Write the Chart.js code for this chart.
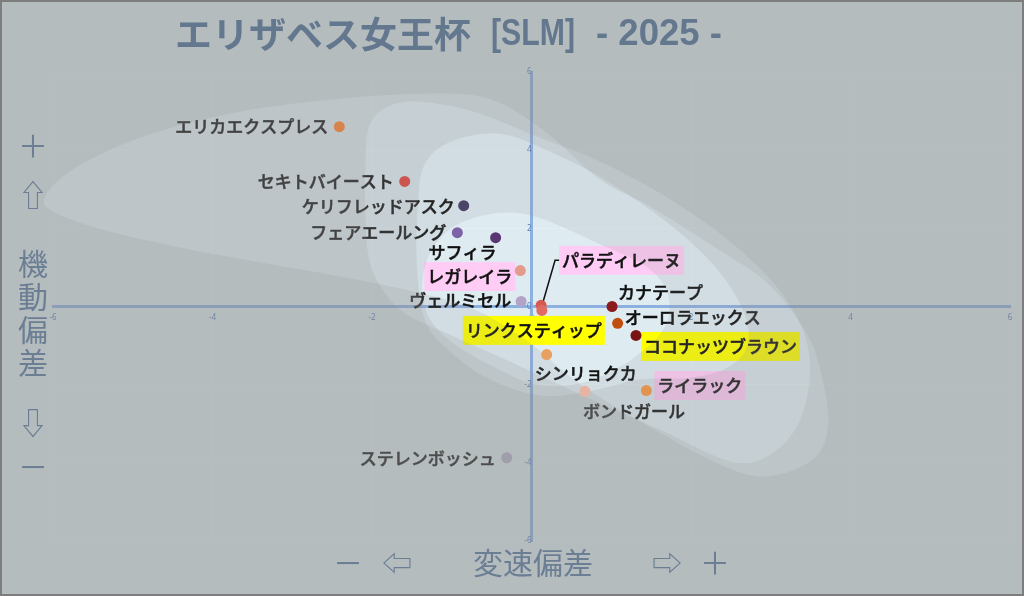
<!DOCTYPE html>
<html lang="ja">
<head>
<meta charset="utf-8">
<title>エリザベス女王杯 [SLM] - 2025 -</title>
<script src="https://cdn.jsdelivr.net/npm/chart.js@4.4.1/dist/chart.umd.min.js"></script>
<style>
  html, body { margin: 0; padding: 0; background: #b6bdbf; }
  #wrap { width: 1024px; height: 596px; position: relative; }
</style>
</head>
<body>
<div id="wrap"><canvas id="slm-chart"></canvas></div>
<script>
// --- data ---
const HORSES = [
  "エリカエクスプレス", "セキトバイースト", "ケリフレッドアスク", "フェアエールング",
  "サフィラ", "レガレイラ", "ヴェルミセル", "パラディレーヌ", "リンクスティップ",
  "カナテープ", "オーロラエックス", "ココナッツブラウン", "シンリョクカ",
  "ボンドガール", "ライラック", "ステレンボッシュ"
];
// 変速偏差 (x)
const SPEED_DEV = [-2.41, -1.59, -0.85, -0.93, -0.45, -0.14, -0.13, 0.12, 0.13, 1.01, 1.08, 1.31, 0.19, 0.67, 1.44, -0.31];
// 機動偏差 (y)
const MOBILITY_DEV = [4.60, 3.20, 2.58, 1.89, 1.76, 0.92, 0.13, 0.03, -0.10, 0.00, -0.43, -0.74, -1.23, -2.17, -2.15, -3.87];

const AXIS_MIN = -6;
const AXIS_MAX = 6;
const AXIS_STEP = 2;

// density regions behind the field, outlines in data units
const REGION_OUTER = [
  [-6.10, 2.81], [-5.72, 3.55], [-4.91, 4.32], [-3.78, 4.94], [-2.53, 5.29], [-1.27, 5.45],
  [-0.52, 5.31], [0.17, 4.48], [0.86, 3.25], [1.49, 2.56], [2.24, 1.59], [2.95, 0.61],
  [3.42, -0.59], [3.62, -1.61], [3.72, -3.02], [3.53, -3.91], [2.95, -4.35], [2.36, -4.04],
  [1.49, -3.09], [0.61, -1.99], [-0.08, -0.84], [-0.77, -0.03], [-1.65, 0.46], [-2.90, 0.95],
  [-4.16, 1.41], [-5.29, 1.92], [-5.97, 2.40]
];
const REGION_WIDE = [
  [-2.08, 3.76], [-2.03, 4.65], [-1.80, 5.12], [-1.40, 5.24], [-0.73, 4.99], [0.11, 4.32],
  [0.86, 3.71], [1.74, 2.74], [2.61, 1.46], [3.24, 0.05], [3.49, -1.36], [3.37, -2.89],
  [2.99, -3.79], [2.49, -3.96], [1.61, -3.15], [0.61, -2.25], [-0.27, -1.41], [-1.02, -0.72],
  [-1.65, -0.08], [-2.00, 0.95], [-2.08, 2.23]
];
const REGION_MID = [
  [-1.42, 2.74], [-1.36, 3.55], [-1.15, 4.07], [-0.77, 4.37], [-0.33, 4.40], [0.17, 4.02],
  [0.86, 3.32], [1.65, 2.23], [2.28, 1.07], [2.65, -0.08], [2.71, -0.97], [2.46, -1.56],
  [1.99, -1.82], [1.36, -1.87], [0.73, -2.17], [0.11, -2.28], [-0.52, -1.87], [-1.02, -1.15],
  [-1.34, -0.33], [-1.44, 1.20]
];
const REGION_CORE = [
  [-1.37, 0.43], [-1.30, 1.25], [-1.06, 1.92], [-0.67, 2.30], [-0.21, 2.40], [0.23, 2.17],
  [0.86, 1.59], [1.42, 1.05], [1.69, 0.43], [1.71, -0.33], [1.49, -0.97], [1.05, -1.61],
  [0.55, -1.99], [0.04, -1.99], [-0.46, -1.56], [-0.96, -0.97], [-1.27, -0.33]
];

// --- styles ---
const POINT_COLORS = [
  "#d9834c", "#cc5550", "#4a4468", "#7d62a8", "#583672", "#e59a8e", "#b3a3c6", "#d65a50",
  "#df6c63", "#8a1c1c", "#c04e0c", "#7a1414", "#e8a060", "#e9b3a3", "#e09450", "#a09eaa"
];
const PINK = "#ffccf6";
const YELLOW = "#ffff00";
// label placement relative to the point, in px
const LABEL_LAYOUT = [
  { align: "right", dx: -11, dy: 0 },
  { align: "right", dx: -11, dy: 0 },
  { align: "right", dx: -9, dy: 1 },
  { align: "right", dx: -11, dy: 0 },
  { align: "right", dx: 1, dy: 15 },
  { align: "right", dx: -8, dy: 6, mark: PINK },
  { align: "right", dx: -10, dy: -1 },
  { align: "left", dx: 21, dy: -45, mark: PINK, leader: true },
  { align: "right", dx: 60, dy: 20, mark: YELLOW },
  { align: "left", dx: 6, dy: -14 },
  { align: "left", dx: 7, dy: -6 },
  { align: "left", dx: 8, dy: 11, mark: YELLOW },
  { align: "left", dx: -12, dy: 19 },
  { align: "left", dx: -2, dy: 20 },
  { align: "left", dx: 11, dy: -5, mark: PINK },
  { align: "right", dx: -11, dy: 1 }
];

const BASE_COLOR = "#deecf2";
const FOG_COLOR = "rgba(140,140,140,0.155)";
const CAPTION_COLOR = "#6b7e94";
const TITLE_COLOR = "#63778e";
const JP_FONT = "'Noto Sans CJK JP', 'Noto Sans', sans-serif";
const LATIN_FONT = "'Liberation Sans', 'DejaVu Sans', sans-serif";

// --- helpers ---
function traceLoop(ctx, pts) {
  const n = pts.length;
  ctx.moveTo(pts[0][0], pts[0][1]);
  for (let i = 0; i < n; i++) {
    const p0 = pts[(i - 1 + n) % n], p1 = pts[i], p2 = pts[(i + 1) % n], p3 = pts[(i + 2) % n];
    ctx.bezierCurveTo(
      p1[0] + (p2[0] - p0[0]) / 6, p1[1] + (p2[1] - p0[1]) / 6,
      p2[0] - (p3[0] - p1[0]) / 6, p2[1] - (p3[1] - p1[1]) / 6,
      p2[0], p2[1]
    );
  }
  ctx.closePath();
}

// text squeezed/stretched horizontally to fill a given width
function fitText(ctx, text, left, cy, width) {
  const w = ctx.measureText(text).width;
  ctx.save();
  ctx.translate(left, cy);
  ctx.scale(width / w, 1);
  ctx.fillText(text, 0, 0);
  ctx.restore();
}

function drawLabels(chart) {
  const { ctx, scales: { x, y } } = chart;
  ctx.save();
  ctx.font = `500 17px ${JP_FONT}`;
  ctx.textBaseline = "middle";
  HORSES.forEach((name, i) => {
    const lay = LABEL_LAYOUT[i];
    const px = x.getPixelForValue(SPEED_DEV[i]);
    const py = y.getPixelForValue(MOBILITY_DEV[i]);
    const w = ctx.measureText(name).width;
    const tx = lay.align === "right" ? px + lay.dx - w : px + lay.dx;
    const ty = py + lay.dy;
    if (lay.mark) {
      ctx.fillStyle = lay.mark;
      ctx.fillRect(tx - 3, ty - 14.5, w + 6, 29);
    }
    if (lay.leader) {
      ctx.strokeStyle = "#111";
      ctx.lineWidth = 1.5;
      ctx.beginPath();
      ctx.moveTo(px + 1, py);
      ctx.lineTo(tx - 7, ty);
      ctx.lineTo(tx - 3, ty);
      ctx.stroke();
    }
    ctx.fillStyle = "#111";
    ctx.strokeStyle = "#111";
    ctx.lineWidth = 0.5;
    ctx.textAlign = "left";
    ctx.fillText(name, tx, ty);
    ctx.strokeText(name, tx, ty);
  });
  ctx.restore();
}

function drawFog(chart) {
  const { ctx, width, height, scales: { x, y } } = chart;
  ctx.save();
  ctx.fillStyle = FOG_COLOR;
  [REGION_OUTER, REGION_WIDE, REGION_MID, REGION_CORE].forEach(region => {
    const pts = region.map(([vx, vy]) => [x.getPixelForValue(vx), y.getPixelForValue(vy)]);
    ctx.beginPath();
    ctx.rect(0, 0, width, height);
    traceLoop(ctx, pts);
    ctx.fill("evenodd");
  });
  ctx.restore();
}

function drawCaptions(chart) {
  const { ctx, width, height } = chart;
  ctx.save();
  ctx.textBaseline = "middle";

  // title, in three pieces to match the spacing of the original
  ctx.fillStyle = TITLE_COLOR;
  ctx.textAlign = "left";
  ctx.font = `bold 36px ${JP_FONT}`;
  fitText(ctx, "エリザベス女王杯", 175, 34, 296);
  ctx.font = `bold 36px ${LATIN_FONT}`;
  fitText(ctx, "[SLM]", 491, 35, 84);
  fitText(ctx, "- 2025 -", 596, 35, 126);

  ctx.textAlign = "center";
  ctx.fillStyle = CAPTION_COLOR;
  ctx.font = `30px ${JP_FONT}`;
  [["＋", 146], ["⇧", 195], ["機", 264], ["動", 297], ["偏", 330], ["差", 363], ["⇩", 423], ["－", 467]]
    .forEach(([t, ty]) => ctx.fillText(t, 33, ty));
  [["－", 348], ["⇦", 397], ["変速偏差", 533], ["⇨", 667], ["＋", 715]]
    .forEach(([t, tx]) => ctx.fillText(t, tx, 563));

  ctx.strokeStyle = "#7d7d7d";
  ctx.lineWidth = 2;
  ctx.strokeRect(1, 1, width - 2, height - 2);
  ctx.restore();
}

const fieldPlugin = {
  id: "fieldPlugin",
  beforeDraw(chart) {
    const { ctx, width, height } = chart;
    ctx.save();
    ctx.fillStyle = BASE_COLOR;
    ctx.fillRect(0, 0, width, height);
    ctx.restore();
  },
  beforeDatasetsDraw(chart) {
    drawLabels(chart);
    drawFog(chart);
  },
  afterDraw(chart) {
    drawCaptions(chart);
  }
};

// --- chart ---
const axisOpts = (pos) => ({
  type: "linear",
  min: AXIS_MIN,
  max: AXIS_MAX,
  position: pos,
  ticks: { stepSize: AXIS_STEP, color: "#5a7fb8", padding: 6, font: { size: 8, family: "'Noto Sans', sans-serif" } },
  grid: { color: "rgba(255,255,255,0.2)", lineWidth: 1, drawTicks: false },
  border: { color: "#8cb0e0", width: 3 }
});

new Chart(document.getElementById("slm-chart").getContext("2d"), {
  type: "scatter",
  data: {
    datasets: [{
      data: HORSES.map((h, i) => ({ x: SPEED_DEV[i], y: MOBILITY_DEV[i] })),
      backgroundColor: POINT_COLORS,
      borderColor: POINT_COLORS,
      borderWidth: 0,
      pointRadius: 5.5
    }]
  },
  options: {
    responsive: true,
    maintainAspectRatio: false,
    animation: false,
    events: [],
    layout: { padding: { left: 53, right: 14, top: 72, bottom: 55 } },
    scales: {
      x: axisOpts({ y: 0 }),
      y: axisOpts({ x: 0 })
    },
    plugins: { legend: { display: false }, tooltip: { enabled: false } }
  },
  plugins: [fieldPlugin]
});
</script>
</body>
</html>
